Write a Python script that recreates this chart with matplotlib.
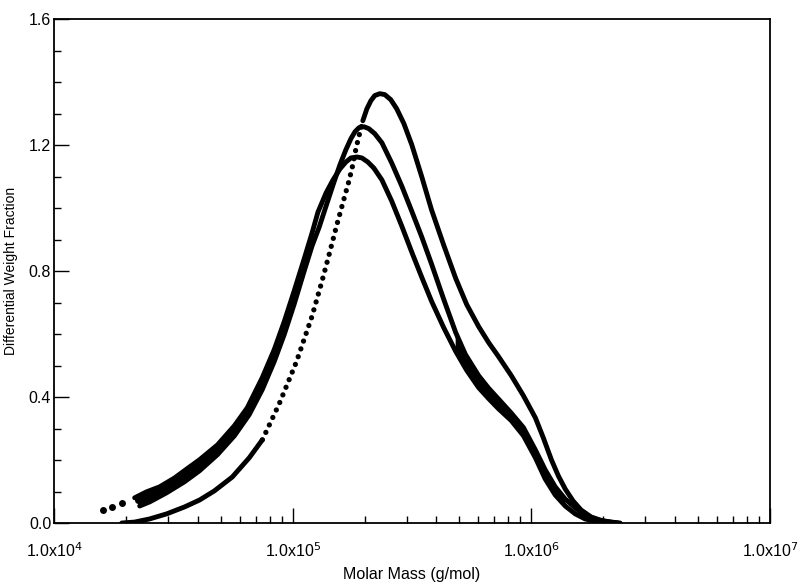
import matplotlib
matplotlib.use("Agg")
import matplotlib.pyplot as plt
import numpy as np
from matplotlib.ticker import LogLocator, MultipleLocator, NullFormatter

plt.rcParams['font.family'] = ['Liberation Sans', 'DejaVu Sans']

# Values; molar mass given as log10(M in g/mol)
# Curve A (highest peak, ~1.36 near 2.3e5)
A_logM = [4.284, 4.338, 4.401, 4.472, 4.547, 4.610, 4.672, 4.747, 4.818, 4.873,
          4.944, 5.015, 5.081, 5.123, 5.152, 5.186, 5.215, 5.236, 5.253, 5.265,
          5.278, 5.294, 5.311, 5.328, 5.344, 5.365, 5.386, 5.411, 5.436, 5.466,
          5.499, 5.541, 5.582, 5.633, 5.683, 5.729, 5.779, 5.821, 5.862, 5.916,
          5.967, 6.017, 6.050, 6.084, 6.113, 6.142, 6.175, 6.209, 6.251, 6.301,
          6.363]
A_y = [0.0, 0.003, 0.013, 0.029, 0.051, 0.073, 0.102, 0.146, 0.207, 0.264,
       0.379, 0.510, 0.656, 0.768, 0.850, 0.949, 1.029, 1.086, 1.140, 1.188,
       1.229, 1.277, 1.315, 1.341, 1.357, 1.363, 1.360, 1.344, 1.315, 1.268,
       1.201, 1.099, 0.994, 0.882, 0.777, 0.694, 0.624, 0.573, 0.529, 0.468,
       0.404, 0.334, 0.271, 0.201, 0.150, 0.108, 0.070, 0.041, 0.019, 0.006,
       0.0]

# Curve B (middle peak, ~1.26 near 1.95e5)
B_logM = [4.359, 4.401, 4.472, 4.547, 4.610, 4.685, 4.756, 4.818, 4.873, 4.923,
          4.965, 5.006, 5.048, 5.081, 5.111, 5.136, 5.169, 5.198, 5.223, 5.244,
          5.261, 5.278, 5.299, 5.319, 5.344, 5.374, 5.415, 5.457, 5.499, 5.541,
          5.582, 5.633, 5.683, 5.724, 5.779, 5.821, 5.862, 5.916, 5.967, 6.017,
          6.058, 6.100, 6.142, 6.184, 6.225, 6.280, 6.334, 6.372]
B_y = [0.054, 0.067, 0.096, 0.131, 0.166, 0.217, 0.277, 0.344, 0.424, 0.513,
       0.599, 0.694, 0.799, 0.879, 0.939, 0.997, 1.073, 1.137, 1.185, 1.220,
       1.242, 1.255, 1.258, 1.252, 1.236, 1.207, 1.143, 1.070, 0.990, 0.908,
       0.822, 0.710, 0.605, 0.535, 0.468, 0.428, 0.394, 0.349, 0.303, 0.232,
       0.169, 0.115, 0.076, 0.048, 0.025, 0.010, 0.003, 0.0]

# Curve C (lowest peak, ~1.16 near 1.8e5)
C_logM = [4.338, 4.388, 4.443, 4.505, 4.568, 4.610, 4.685, 4.756, 4.810, 4.873,
          4.923, 4.965, 5.006, 5.048, 5.081, 5.106, 5.140, 5.169, 5.198, 5.223,
          5.244, 5.269, 5.290, 5.315, 5.340, 5.374, 5.415, 5.457, 5.499, 5.541,
          5.582, 5.633, 5.683, 5.729, 5.779, 5.821, 5.862, 5.916, 5.967, 6.017,
          6.058, 6.100, 6.142, 6.184, 6.225, 6.280, 6.334]
C_y = [0.080, 0.099, 0.115, 0.143, 0.178, 0.201, 0.248, 0.309, 0.366, 0.462,
       0.551, 0.640, 0.736, 0.838, 0.920, 0.987, 1.048, 1.089, 1.124, 1.146,
       1.159, 1.162, 1.159, 1.146, 1.127, 1.089, 1.022, 0.943, 0.860, 0.780,
       0.704, 0.620, 0.545, 0.485, 0.430, 0.395, 0.363, 0.325, 0.277, 0.207,
       0.140, 0.089, 0.054, 0.029, 0.013, 0.003, 0.0]

# isolated low-mass points
stray_logM = [4.205, 4.242, 4.284, 4.351]
stray_y = [0.041, 0.051, 0.064, 0.073]

x_ticks = [1e4, 1e5, 1e6, 1e7]
x_ticklabels = ['1.0x10$^{4}$', '1.0x10$^{5}$', '1.0x10$^{6}$', '1.0x10$^{7}$']
y_ticks = [0.0, 0.4, 0.8, 1.2, 1.6]
y_ticklabels = ['0.0', '0.4', '0.8', '1.2', '1.6']

fig = plt.figure(figsize=(8.01, 5.83), dpi=100)
ax = fig.add_axes([0.0674, 0.1029, 0.8939, 0.8645])
ax.set_xscale('log')
ax.set_xlim(1e4, 1e7)
ax.set_ylim(0, 1.6)

lw = 3.5
kw = dict(color='black', lw=lw, solid_capstyle='round', solid_joinstyle='round')
A_M = np.power(10.0, A_logM)
A_yy = np.array(A_y)
lo = A_M <= 10 ** 4.874
mid = (A_M >= 10 ** 4.872) & (A_M <= 10 ** 5.295)
hi = A_M >= 10 ** 5.293
ax.plot(A_M[lo], A_yy[lo], **kw)
ax.plot(A_M[mid], A_yy[mid], color='black', lw=3.8, linestyle=(0, (0.01, 1.55)),
        dash_capstyle='round')
ax.plot(A_M[hi], A_yy[hi], **kw)

B_M = np.power(10.0, B_logM); B_yy = np.array(B_y)
C_M = np.power(10.0, C_logM); C_yy = np.array(C_y)
ax.plot(B_M, B_yy, **kw)
ax.plot(C_M, C_yy, **kw)

# overlapping point clouds of B and C appear as a solid band in two regions
for lo_l, hi_l in [(4.30, 4.93), (5.68, 6.15)]:
    bm = (np.array(B_logM) >= lo_l) & (np.array(B_logM) <= hi_l)
    cm = (np.array(C_logM) >= lo_l) & (np.array(C_logM) <= hi_l)
    px = np.concatenate([C_M[cm], B_M[bm][::-1]])
    py = np.concatenate([C_yy[cm], B_yy[bm][::-1]])
    ax.fill(px, py, color='black', lw=0)

ax.plot(np.power(10.0, stray_logM), stray_y, 'o', color='black', ms=5, markeredgewidth=0)

ax.set_xticks(x_ticks)
ax.set_xticklabels(x_ticklabels)
ax.xaxis.set_minor_locator(LogLocator(base=10, subs=np.arange(2, 10)))
ax.xaxis.set_minor_formatter(NullFormatter())
ax.set_yticks(y_ticks)
ax.set_yticklabels(y_ticklabels)
ax.yaxis.set_minor_locator(MultipleLocator(0.1))

ax.tick_params(axis='both', which='major', direction='in', length=11, width=1.0,
               labelsize=11.5, top=False, right=False)
ax.tick_params(axis='both', which='minor', direction='in', length=5, width=1.0,
               top=False, right=False)
ax.tick_params(axis='x', which='major', pad=13)
ax.tick_params(axis='y', which='major', pad=2)
for s in ax.spines.values():
    s.set_linewidth(1.3)

ax.set_xlabel('Molar Mass (g/mol)', fontsize=11.5, labelpad=5)
ax.set_ylabel('Differential Weight Fraction', fontsize=10, labelpad=8)

fig.savefig('out.png', dpi=100)
